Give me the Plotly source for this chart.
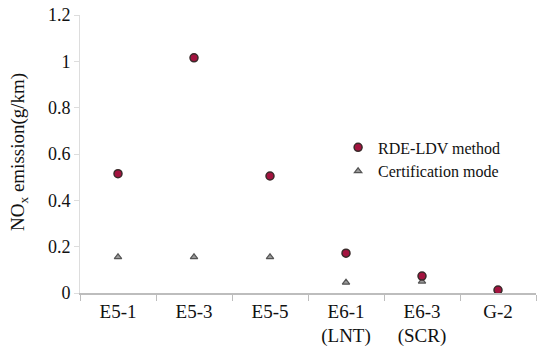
import plotly.graph_objects as go

categories = ["E5-1", "E5-3", "E5-5", "E6-1<br>(LNT)", "E6-3<br>(SCR)", "G-2"]
rde_ldv = [0.515, 1.015, 0.505, 0.172, 0.073, 0.013]
certification = [0.155, 0.155, 0.155, 0.045, 0.05, 0.012]
y_ticks = [0, 0.2, 0.4, 0.6, 0.8, 1, 1.2]
y_tick_labels = ["0", "0.2", "0.4", "0.6", "0.8", "1", "1.2"]

font = "Liberation Serif, Times New Roman, serif"

fig = go.Figure()
fig.add_trace(go.Scatter(
    x=categories, y=certification, mode="markers", name="Certification mode",
    marker=dict(symbol="triangle-up", size=6.5, color="#9a9a9a",
                line=dict(color="#555555", width=1.2)),
))
fig.add_trace(go.Scatter(
    x=categories, y=rde_ldv, mode="markers", name="RDE-LDV method",
    marker=dict(symbol="circle", size=8, color="#a3133f",
                line=dict(color="#3a2a2a", width=1.5)),
))

fig.update_layout(
    width=537, height=347,
    margin=dict(l=80, r=1, t=15, b=54, autoexpand=False),
    paper_bgcolor="white", plot_bgcolor="white",
    font=dict(family=font, size=18, color="#111111"),
    showlegend=True,
    legend=dict(x=0.566, y=0.585, xanchor="left", yanchor="top",
                traceorder="reversed", font=dict(size=16, family=font),
                bgcolor="rgba(0,0,0,0)", itemwidth=30, tracegroupgap=0),
    xaxis=dict(type="category", range=[-0.5, 5.5], showline=True,
               linecolor="#bdbdbd", linewidth=1.5, ticks="outside",
               tickson="boundaries", ticklen=6, tickcolor="#bdbdbd",
               showgrid=False, zeroline=False, automargin=False,
               tickfont=dict(size=19, family=font)),
    yaxis=dict(range=[0, 1.2], tickvals=y_ticks, ticktext=y_tick_labels,
               showline=True, linecolor="#dddddd", linewidth=1,
               ticks="outside", ticklen=5, tickcolor="#dddddd",
               showgrid=False, zeroline=False, automargin=False,
               ticklabeloverflow="allow",
               tickfont=dict(size=18, family=font)),
    annotations=[dict(text="NO<sub>x</sub> emission(g/km)", xref="paper",
                      yref="paper", x=-0.134, y=0.507, xanchor="center",
                      yanchor="middle", textangle=-90, showarrow=False,
                      font=dict(size=19, family=font))],
)

fig.write_html("out.html", config={"displayModeBar": False},
               post_script="document.body.style.margin='0';")
